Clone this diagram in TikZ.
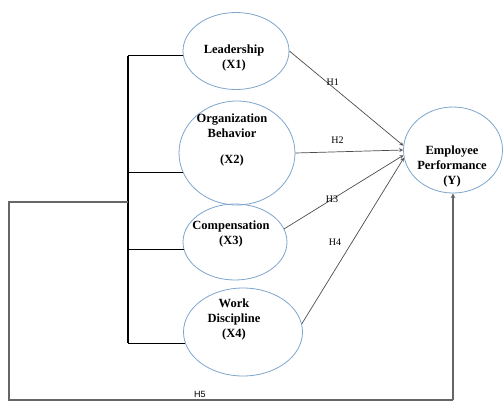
\documentclass[tikz,border=0pt]{standalone}
\usepackage{fontspec}
\setmainfont{Liberation Serif}
\setsansfont{Liberation Sans}
\usepackage{tikz}
\usetikzlibrary{shapes.geometric}
\definecolor{ellblue}{RGB}{125,165,205}

\begin{document}
\begin{tikzpicture}[x=1pt,y=-1pt,>=stealth,
		var/.style={ellipse, draw=ellblue, line width=0.8pt, inner sep=0pt},
		txt/.style={font=\fontsize{12.5}{15}\selectfont\bfseries, align=center, inner sep=0pt},
		hyp/.style={draw=black!70, line width=0.7pt, ->},
		hl/.style={font=\fontsize{10}{12}\selectfont, inner sep=1.5pt},
		bus/.style={draw=black, line width=1.3pt},
		loopline/.style={draw=black!60, line width=1.1pt}]
		\useasboundingbox (0,0) rectangle (503,402);
		% latent variables
		\node[var, minimum width=106, minimum height=77] (x1) at (236,51) {};
		\node[var, minimum width=116, minimum height=104] (x2) at (237,153) {};
		\node[var, minimum width=104, minimum height=76] (x3) at (235,242) {};
		\node[var, minimum width=119, minimum height=88] (x4) at (243,332) {};
		\node[var, minimum width=99, minimum height=86] (y) at (453,150) {};
		\node[txt] (t1) at (234,58) {Leadership\\(X1)};
		\node[txt] (t2) at (232,140) {Organization\\Behavior\\[11pt](X2)};
		\node[txt] (t3) at (231,234) {Compensation\\(X3)};
		\node[txt] (t4) at (234,319) {Work\\Discipline\\(X4)};
		\node[txt] (ty) at (452,166) {Employee\\Performance\\(Y)};
		% bracket joining X1..X4
		\coordinate (bus) at (128,0);
		\draw[bus] (x1.185 -| bus) -- (x4.191 -| bus);
		\draw[bus] (x1.185 -| bus) -- (x1.185);
		\draw[bus] (x2.200 -| bus) -- (x2.200);
		\draw[bus] (x3.188 -| bus) -- (x3.188);
		\draw[bus] (x4.191 -| bus) -- (x4.191);
		% H1 - H4
		\draw[hyp] (x1.east) -- (y.175) node[hl, pos=0.38, above]{H1};
		\draw[hyp] (x2.east) -- (y.180) node[hl, pos=0.39, above=6pt]{H2};
		\draw[hyp] (x3.15) -- (y.186) node[hl, pos=0.4]{H3};
		\draw[hyp] (x4.8) -- (y.189) node[hl, pos=0.49, left=9pt]{H4};
		% H5
		\coordinate (tap) at (128,202);
		\coordinate (c1) at (9,202);
		\coordinate (c2) at (9,400);
		\draw[loopline] (tap) -- (c1) -- (c2) -- (c2 -| y.south) node[hl, pos=0.43, above, font=\fontsize{9}{11}\selectfont\sffamily]{H5};
		\draw[loopline, ->] (c2 -| y.south) -- (y.south);
	\end{tikzpicture}
\end{document}
